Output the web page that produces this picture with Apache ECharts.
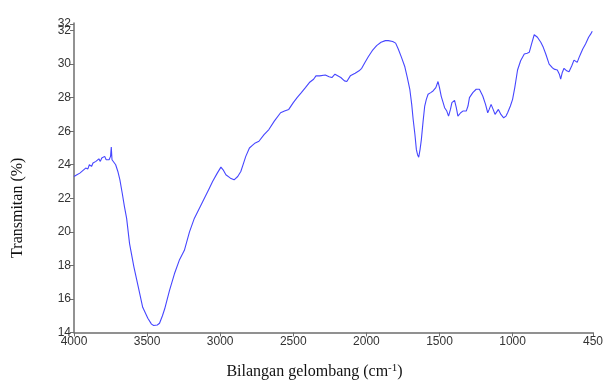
<!DOCTYPE html>
<html>
<head>
<meta charset="utf-8">
<script src="https://cdn.jsdelivr.net/npm/echarts@6/dist/echarts.min.js"></script>
<style>
  html, body { margin: 0; padding: 0; background: #fff; }
  #chart { width: 606px; height: 385px; }
</style>
</head>
<body>
<div id="chart"></div>
<script>
// bilangan gelombang (cm-1) dan transmitan (%)
var wavenumbers = [
  4000, 3980, 3960, 3940, 3920, 3905, 3895, 3880, 3870, 3860, 3850, 3840, 3830, 3820,
  3810, 3800, 3790, 3780, 3770, 3760, 3750, 3745, 3740, 3732, 3715, 3700, 3686, 3670,
  3655, 3640, 3620, 3590, 3560, 3530, 3495, 3470, 3455, 3430, 3415, 3395, 3380, 3347,
  3313, 3280, 3245, 3210, 3177, 3120, 3080, 3052, 3020, 2995, 2980, 2961, 2930, 2905,
  2880, 2859, 2840, 2825, 2800, 2780, 2760, 2735, 2723, 2700, 2667, 2630, 2587, 2560,
  2531, 2500, 2474, 2445, 2417, 2390, 2361, 2345, 2320, 2281, 2255, 2236, 2215, 2202,
  2175, 2150, 2134, 2110, 2077, 2050, 2032, 2010, 1986, 1960, 1930, 1900, 1870, 1850,
  1820, 1800, 1782, 1760, 1737, 1720, 1703, 1690, 1680, 1668, 1658, 1650, 1642, 1633,
  1624, 1612, 1601, 1590, 1578, 1560, 1544, 1525, 1510, 1500, 1488, 1475, 1465, 1450,
  1438, 1425, 1415, 1397, 1385, 1374, 1355, 1340, 1317, 1305, 1295, 1272, 1249, 1227,
  1215, 1204, 1185, 1170, 1160, 1147, 1133, 1120, 1110, 1097, 1080, 1061, 1045, 1034,
  1015, 1000, 985, 966, 945, 920, 900, 886, 870, 852, 840, 830, 807, 790,
  773, 750, 730, 716, 694, 680, 671, 660, 648, 630, 614, 595, 580, 568,
  558, 545, 535, 520, 501, 480, 465, 455
];
var transmittance = [
  23.3, 23.4, 23.5, 23.65, 23.8, 23.75, 24.0, 23.9, 24.1, 24.0, 24.2, 24.1, 24.35, 24.2,
  24.4, 24.3, 24.5, 24.3, 24.4, 24.3, 24.5, 25.05, 24.3, 24.2, 24.0, 23.6, 23.1, 22.3,
  21.5, 20.8, 19.3, 17.9, 16.7, 15.5, 14.85, 14.5, 14.42, 14.45, 14.55, 15.0, 15.4, 16.5,
  17.5, 18.3, 18.9, 20.0, 20.8, 21.8, 22.5, 23.0, 23.5, 23.86, 23.7, 23.4, 23.2, 23.1,
  23.3, 23.6, 24.1, 24.5, 25.0, 25.15, 25.3, 25.4, 25.45, 25.8, 26.1, 26.6, 27.1, 27.2,
  27.3, 27.7, 28.0, 28.3, 28.6, 28.9, 29.1, 29.3, 29.3, 29.35, 29.25, 29.2, 29.4, 29.45,
  29.2, 29.0, 28.96, 29.3, 29.45, 29.6, 29.75, 30.1, 30.45, 30.8, 31.1, 31.3, 31.4, 31.4,
  31.35, 31.25, 30.9, 30.4, 29.84, 29.2, 28.5, 27.6, 26.7, 25.8, 24.9, 24.6, 24.45, 24.9,
  25.5, 26.6, 27.5, 27.9, 28.2, 28.3, 28.4, 28.6, 28.96, 28.6, 28.08, 27.7, 27.4, 27.2,
  26.9, 27.3, 27.7, 27.84, 27.4, 26.9, 27.1, 27.2, 27.2, 27.5, 28.0, 28.3, 28.5, 28.5,
  28.4, 28.1, 27.6, 27.1, 27.3, 27.6, 27.3, 27.0, 27.1, 27.3, 27.0, 26.8, 26.9, 27.1,
  27.5, 27.9, 28.6, 29.65, 30.2, 30.6, 30.65, 30.7, 31.2, 31.75, 31.8, 31.6, 31.3, 31.0,
  30.6, 30.0, 29.8, 29.7, 29.65, 29.4, 29.1, 29.5, 29.75, 29.6, 29.55, 29.9, 30.24, 30.15,
  30.1, 30.4, 30.6, 30.9, 31.2, 31.6, 31.8, 31.96
];
var xTickValues = [4000, 3500, 3000, 2500, 2000, 1500, 1000, 450];
var yTickValues = [14, 16, 18, 20, 22, 24, 26, 28, 30, 32];
var yMaxTick = [32.4];

var points = [];
for (var i = 0; i < wavenumbers.length; i++) {
  points.push([wavenumbers[i], transmittance[i]]);
}

var labelFont = { fontFamily: 'Liberation Sans', fontSize: 12, color: '#333' };
var axisGray = '#6e6e6e';

var chart = echarts.init(document.getElementById('chart'));
var option = {
  animation: false,
  grid: { left: 74, right: 12, top: 23, bottom: 48 },
  xAxis: {
    type: 'value',
    inverse: true,
    min: 450,
    max: 4000,
    name: 'Bilangan gelombang (cm{sup|-1})',
    nameLocation: 'middle',
    nameGap: 30,
    nameTextStyle: {
      fontFamily: 'Liberation Serif',
      fontSize: 16,
      color: '#111',
      padding: [0, 38, 0, 0],
      rich: {
        sup: { fontFamily: 'Liberation Serif', fontSize: 11, color: '#111', verticalAlign: 'top', padding: [0, 0, 8, 0] }
      }
    },
    splitLine: { show: false },
    axisLine: { lineStyle: { color: axisGray, width: 1.5 } },
    axisTick: { length: 4, customValues: xTickValues, lineStyle: { color: axisGray } },
    axisLabel: Object.assign({
      customValues: xTickValues,
      margin: 3,
      formatter: function (v) { return String(v); }
    }, labelFont)
  },
  yAxis: [{
    type: 'value',
    position: 'left',
    min: 14,
    max: 32.45,
    name: 'Transmitan (%)',
    nameLocation: 'middle',
    nameGap: 48,
    nameRotate: 90,
    nameTextStyle: {
      fontFamily: 'Liberation Serif',
      fontSize: 16,
      color: '#111',
      padding: [0, 60, 0, 0]
    },
    splitLine: { show: false },
    axisLine: { show: true, lineStyle: { color: axisGray, width: 1.5 } },
    axisTick: { show: true, length: 4, customValues: yTickValues, lineStyle: { color: axisGray } },
    axisLabel: Object.assign({
      customValues: yTickValues,
      margin: 3,
      formatter: function (v) { return String(v); }
    }, labelFont)
  }, {
    // label kedua "32" di ujung atas sumbu
    type: 'value',
    position: 'left',
    offset: 0,
    min: 14,
    max: 32.45,
    splitLine: { show: false },
    axisLine: { show: false },
    axisTick: { show: true, length: 4, customValues: yMaxTick, lineStyle: { color: axisGray } },
    axisLabel: Object.assign({
      customValues: yMaxTick,
      margin: 3,
      formatter: function (v) { return String(Math.round(v)); }
    }, labelFont)
  }],
  series: [{
    type: 'line',
    data: points,
    showSymbol: false,
    lineStyle: { color: '#4646ff', width: 1.1 }
  }]
};
chart.setOption(option);
</script>
</body>
</html>
